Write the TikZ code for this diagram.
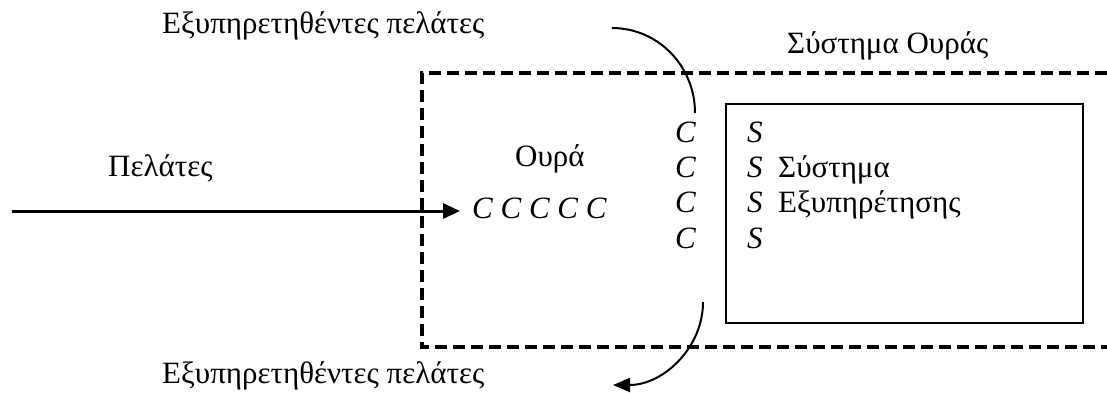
\documentclass[tikz,border=0pt]{standalone}
\usepackage{fontspec}
\setmainfont{Liberation Serif}
\usetikzlibrary{arrows.meta}

\tikzset{
  lbl/.style={inner sep=0pt, anchor=base west, font=\fontsize{31}{36}\selectfont},
  boundary/.style={line width=3.5pt, dash pattern=on 12pt off 6pt},
  server/.style={line width=1.5pt},
  flow/.style={line width=3pt, -{Triangle[length=17pt,width=15pt]}},
  leave/.style={line width=2pt},
  leavearrow/.style={line width=2pt, -{Triangle[length=17pt,width=14pt]}}
}

\begin{document}
\begin{tikzpicture}[x=1pt, y=-1pt]
  \useasboundingbox (0,0) rectangle (1107,392);

  % queueing system boundary (open towards the right)
  \draw[boundary] (1107,73) -- (422,73) -- (422,347) -- (1107,347);

  % service facility
  \draw[server] (726,104) rectangle (1083,323);

  % labels
  \node[lbl] (outtop) at (162,33) {Εξυπηρετηθέντες πελάτες};
  \node[lbl] (outbot) at (162,383) {Εξυπηρετηθέντες πελάτες};
  \node[lbl] (sys) at (787,53) {Σύστημα Ουράς};
  \node[lbl] (cust) at (108,176) {Πελάτες};
  \node[lbl] (queue) at (515,166) {Ουρά};
  \node[lbl] (qrow) at (472,218) {\textit{C C C C C}};

  % customers in front of the servers
  \node[lbl] (c1) at (675,142) {\textit{C}};
  \node[lbl] (c2) at (675,177) {\textit{C}};
  \node[lbl] (c3) at (675,212) {\textit{C}};
  \node[lbl] (c4) at (675,248) {\textit{C}};

  % servers
  \node[lbl] (s1) at (747,142) {\textit{S}};
  \node[lbl] (s2) at (747,177) {\textit{S}};
  \node[lbl] (s3) at (747,212) {\textit{S}};
  \node[lbl] (s4) at (747,248) {\textit{S}};
  \node[lbl] (t2) at (778,177) {Σύστημα};
  \node[lbl] (t3) at (778,212) {Εξυπηρέτησης};

  % arrivals
  \coordinate (src) at (12,211);
  \coordinate (qin) at (460,211);
  \draw[flow] (src) -- (qin);

  % departures
  \coordinate (topstart) at (612,28);
  \coordinate (topend) at (695,113);
  \draw[leave] (topstart) .. controls (658,28) and (695,66) .. (topend);

  \coordinate (botstart) at (703,302);
  \coordinate (botend) at (613,385);
  \draw[leavearrow] (botstart) .. controls (703,348) and (663,385) .. (botend);
\end{tikzpicture}
\end{document}
